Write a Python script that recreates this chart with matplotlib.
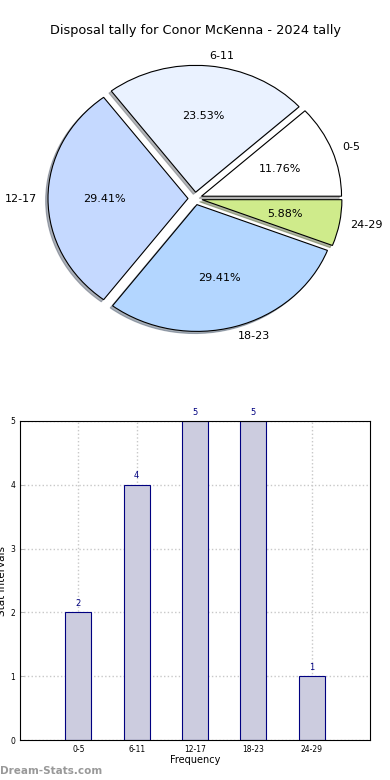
import matplotlib
matplotlib.use("Agg")
import matplotlib.pyplot as plt
import numpy as np

labels = ["0-5", "6-11", "12-17", "18-23", "24-29"]
counts = [2, 4, 5, 5, 1]
pie_colors = ["#ffffff", "#eaf2ff", "#c5d9ff", "#b3d6ff", "#cfeb8b"]
explode = [0.05, 0.05, 0.05, 0.05, 0.05]
title = "Disposal tally for Conor McKenna - 2024 tally"

fig = plt.figure(figsize=(3.9, 7.8), dpi=100)

# pie on top
ax1 = fig.add_axes([20/390., 1 - 357/780., 350/390., 317/780.])
wedges, texts, autotexts = ax1.pie(counts, labels=labels, colors=pie_colors, explode=explode,
                                   autopct="%.2f%%", startangle=0, labeldistance=1.08,
                                   shadow={"ox": -0.012, "oy": -0.012, "shade": 0.55},
                                   wedgeprops={"edgecolor": "black", "linewidth": 0.8},
                                   textprops={"fontsize": 8})
ax1.set_aspect("auto")
ax1.set_title(title, fontsize=9.3, pad=4)

# bar chart below
ax2 = fig.add_axes([20/390., 1 - 740/780., 350/390., 319/780.])
x = np.arange(len(labels))
ax2.bar(x, counts, width=0.45, color="#ccccdf", edgecolor="#000080", linewidth=0.8, zorder=2)
for xi, c in zip(x, counts):
    ax2.text(xi, c + 0.07, str(c), ha="center", va="bottom", fontsize=6, color="#000080")
ax2.set_xlim(-1, 5)
ax2.set_ylim(0, 5)
ax2.set_xticks(x)
ax2.set_xticklabels(labels, fontsize=5.5)
ax2.set_yticks(range(6))
ax2.tick_params(axis="y", labelsize=5.5)
ax2.tick_params(direction="in", length=3, width=0.6, color="#aaaaaa")
ax2.grid(True, linestyle=":", color="#c8c8c8", linewidth=1, zorder=0)
ax2.set_xlabel("Frequency", fontsize=7, labelpad=1)
ax2.set_ylabel("Stat Intervals", fontsize=7.5, labelpad=2)
for s in ax2.spines.values():
    s.set_linewidth(0.8)

fig.text(0.0, 1 - 771/780., "Dream-Stats.com", fontsize=7.5, color="#999999",
         fontweight="bold", va="center", ha="left")

fig.savefig("out.png", dpi=100)
